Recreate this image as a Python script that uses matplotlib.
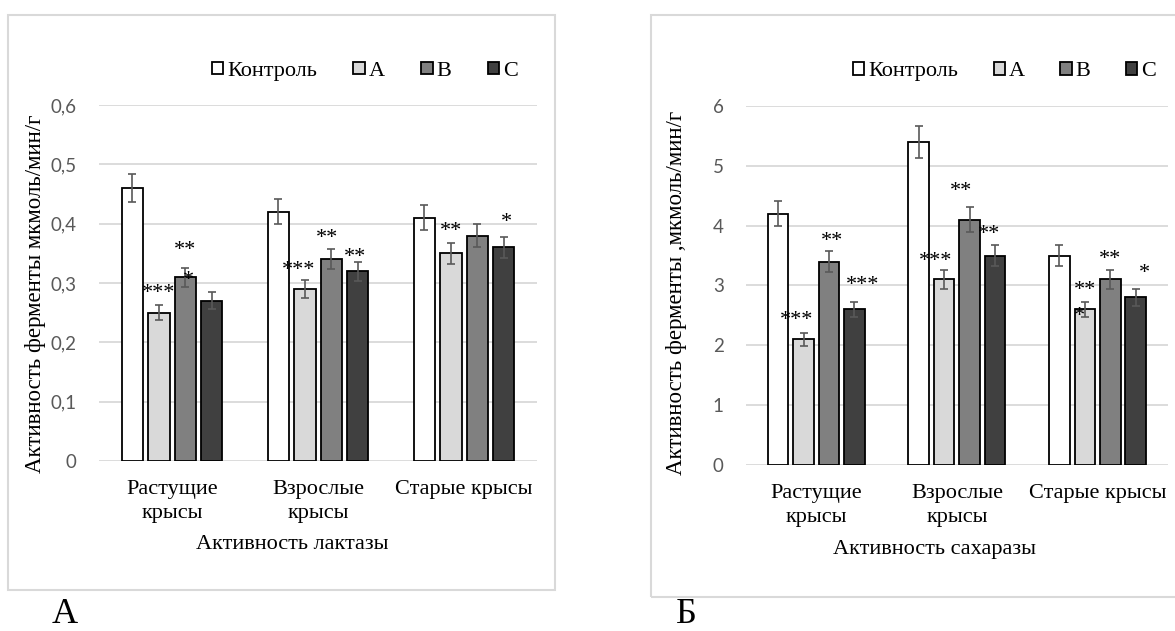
import matplotlib
matplotlib.use("Agg")
import matplotlib.pyplot as plt
from matplotlib.patches import Rectangle
from matplotlib.ticker import FuncFormatter
from matplotlib.transforms import offset_copy

plt.rcParams['font.family'] = ['Liberation Serif', 'DejaVu Serif']

# группы животных и варианты опыта
groups = ['Растущие\nкрысы', 'Взрослые\nкрысы', 'Старые крысы']
series = ['Контроль', 'A', 'B', 'C']
colors = ['#ffffff', '#d9d9d9', '#808080', '#404040']

# активность лактазы, мкмоль/мин/г
lact = [[0.46, 0.42, 0.41],
        [0.25, 0.29, 0.35],
        [0.31, 0.34, 0.38],
        [0.27, 0.32, 0.36]]
lact_err = [[0.023, 0.021, 0.021],
            [0.013, 0.015, 0.018],
            [0.016, 0.017, 0.019],
            [0.014, 0.016, 0.018]]

# активность сахаразы, мкмоль/мин/г
sach = [[4.2, 5.4, 3.5],
        [2.1, 3.1, 2.6],
        [3.4, 4.1, 3.1],
        [2.6, 3.5, 2.8]]
sach_err = [[0.21, 0.27, 0.18],
            [0.11, 0.16, 0.13],
            [0.17, 0.21, 0.16],
            [0.13, 0.18, 0.14]]

# звездочки достоверности: (группа, серия, текст, высота, сдвиг)
lact_stars = [(0, 1, '***', 0.290, 0.0), (0, 2, '**', 0.364, 0.0),
              (0, 2, '*', 0.312, 0.02), (1, 1, '***', 0.330, -0.04),
              (1, 2, '**', 0.383, -0.03), (1, 3, '**', 0.352, -0.02),
              (2, 1, '**', 0.395, 0.0), (2, 3, '*', 0.410, 0.02)]
sach_stars = [(0, 1, '***', 2.49, -0.05), (0, 2, '**', 3.81, 0.02),
              (0, 3, '***', 3.09, 0.06), (1, 1, '***', 3.49, -0.06),
              (1, 2, '**', 4.65, -0.06), (1, 3, '**', 3.93, -0.04),
              (2, 1, '**', 3.00, 0.0), (2, 1, '*', 2.56, -0.04),
              (2, 2, '**', 3.52, 0.0), (2, 3, '*', 3.28, 0.06)]

step = 0.181
width = 0.146
fs = 16


def draw_panel(ax, data, err, stars, ymax, ystep, fmt, xlabel, xlab_pos, ylabel, ylab_pos):
    x = range(len(groups))
    for i, name in enumerate(series):
        pos = [g + (i - 1.5) * step for g in x]
        ax.bar(pos, data[i], width, color=colors[i], edgecolor='black',
               linewidth=1.3, label=name, zorder=2)
        ax.errorbar(pos, data[i], yerr=err[i], fmt='none', ecolor='#595959',
                    elinewidth=1.2, capsize=3, capthick=1.2, zorder=3)
    # звездочки чуть ниже точки привязки: глиф * сидит высоко
    star_tr = offset_copy(ax.transData, fig=ax.figure, y=-5, units='dots')
    for g, i, txt, y, dx in stars:
        ax.text(g + (i - 1.5) * step + dx, y, txt, ha='center', va='center',
                fontsize=fs, zorder=4, transform=star_tr)

    ax.set_xlim(-0.5, len(groups) - 0.5)
    ax.set_ylim(0, ymax)
    ax.set_yticks([k * ystep for k in range(7)])
    ax.yaxis.set_major_formatter(FuncFormatter(fmt))
    ax.set_xticks(list(x))
    ax.set_xticklabels(groups, fontsize=fs, linespacing=1.3)
    for lab in ax.get_yticklabels():
        lab.set_fontfamily('Lato')
        lab.set_fontsize(13.5)
        lab.set_color('#595959')
    ax.tick_params(length=0)
    ax.tick_params(axis='y', pad=16)
    ax.tick_params(axis='x', pad=14)
    for sp in ax.spines.values():
        sp.set_visible(False)
    ax.yaxis.grid(True, color='#d9d9d9', linewidth=1.3)
    ax.set_axisbelow(True)
    ax.patch.set_alpha(0)

    ax.set_xlabel(xlabel, fontsize=fs)
    ax.xaxis.set_label_coords(*xlab_pos)
    ax.set_ylabel(ylabel, fontsize=16.5)
    ax.yaxis.set_label_coords(*ylab_pos)


fig = plt.figure(figsize=(11.75, 6.31), dpi=100)

# рамки вокруг диаграмм
fig.add_artist(Rectangle((0.0064, 0.065), 0.466, 0.911, transform=fig.transFigure,
                         fill=False, edgecolor='#d9d9d9', linewidth=1.5))
fig.add_artist(Rectangle((0.554, 0.054), 0.47, 0.922, transform=fig.transFigure,
                         fill=False, edgecolor='#d9d9d9', linewidth=1.5))

ax1 = fig.add_axes([0.0843, 0.2694, 0.3728, 0.5642])
draw_panel(ax1, lact, lact_err, lact_stars, 0.6, 0.1,
           lambda v, p: ('%.1f' % v).replace('.', ',') if v else '0',
           'Активность лактазы', (0.44, -0.208),
           'Активность ферменты мкмоль/мин/г', (-0.12, 0.469))
ax1.legend(loc='center', bbox_to_anchor=(0.607, 1.095), ncol=4, frameon=False,
           fontsize=fs, handlelength=0.5, handleheight=0.5, handletextpad=0.18,
           columnspacing=1.65, borderpad=0)

ax2 = fig.add_axes([0.6349, 0.2631, 0.359, 0.569])
draw_panel(ax2, sach, sach_err, sach_stars, 6, 1,
           lambda v, p: '%d' % v,
           'Активность сахаразы', (0.448, -0.209),
           'Активность ферменты ,мкмоль/мин/г', (-0.14, 0.479))
ax2.legend(loc='center', bbox_to_anchor=(0.613, 1.095), ncol=4, frameon=False,
           fontsize=fs, handlelength=0.5, handleheight=0.5, handletextpad=0.18,
           columnspacing=1.6, borderpad=0)

fig.text(0.0553, 0.0, 'А', fontsize=26, ha='center', va='bottom')
fig.text(0.5838, 0.0, 'Б', fontsize=26, ha='center', va='bottom')

fig.savefig('out.png', dpi=100, facecolor='white')
